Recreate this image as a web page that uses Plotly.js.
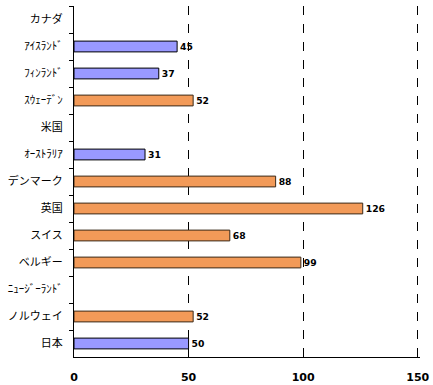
<!DOCTYPE html>
<html><head><meta charset="utf-8">
<script src="https://cdn.plot.ly/plotly-3.0.1.min.js"></script>
<style>html,body{margin:0;padding:0;background:#fff}#c{width:433px;height:385px}</style>
</head><body><div id="c"></div>
<script>
const categories = ["カナダ","ｱｲｽﾗﾝﾄﾞ","ﾌｨﾝﾗﾝﾄﾞ","ｽｳｪｰﾃﾞﾝ","米国","ｵｰｽﾄﾗﾘｱ","デンマーク","英国","スイス","ベルギー","ﾆｭｰｼﾞｰﾗﾝﾄﾞ","ノルウェイ","日本"];
const values = [null,45,37,52,null,31,88,126,68,99,null,52,50];
const groups = ["","b","b","o","","b","o","o","o","o","","o","b"];
const xTicks = [0,50,100,150];

const fillMap = {b:"#9999ff", o:"#f29a58", "":"#ffffff"};
const lineMap = {b:"#000000", o:"#3a2a1a", "":"#000000"};

const trace = {
  type:"bar", orientation:"h",
  y: categories, x: values,
  marker:{color: groups.map(g=>fillMap[g]), line:{color: groups.map(g=>lineMap[g]), width:1}},
  text: values.map(v=> v==null ? "" : String(v)),
  textposition:"outside", cliponaxis:false,
  textfont:{family:"DejaVu Sans", size:12, color:"#000", weight:"bold"},
  hoverinfo:"none"
};

const layout = {
  width:433, height:385,
  margin:{l:74, r:13, t:6, b:28},
  paper_bgcolor:"#fff", plot_bgcolor:"#fff",
  showlegend:false,
  bargap:0.6,
  font:{family:"Noto Sans CJK JP", color:"#000"},
  xaxis:{
    range:[0,151], tickvals:xTicks, ticktext:xTicks.map(String),
    showgrid:true, gridcolor:"#000", griddash:"dash", gridwidth:1,
    zeroline:false, showline:true, linecolor:"#000", linewidth:1,
    ticks:"", ticklabelstandoff:10,
    tickfont:{family:"DejaVu Sans", size:11, color:"#000", weight:"bold"},
    fixedrange:true
  },
  yaxis:{
    type:"category", autorange:"reversed",
    showline:true, linecolor:"#000", linewidth:1,
    ticks:"outside", tickson:"boundaries", ticklen:4, tickcolor:"#000",
    showgrid:false, ticklabelstandoff:8,
    tickfont:{family:"Noto Sans CJK JP", size:11, color:"#000"},
    fixedrange:true
  }
};

Plotly.newPlot("c",[trace],layout,{displayModeBar:false, staticPlot:true});
</script></body></html>
